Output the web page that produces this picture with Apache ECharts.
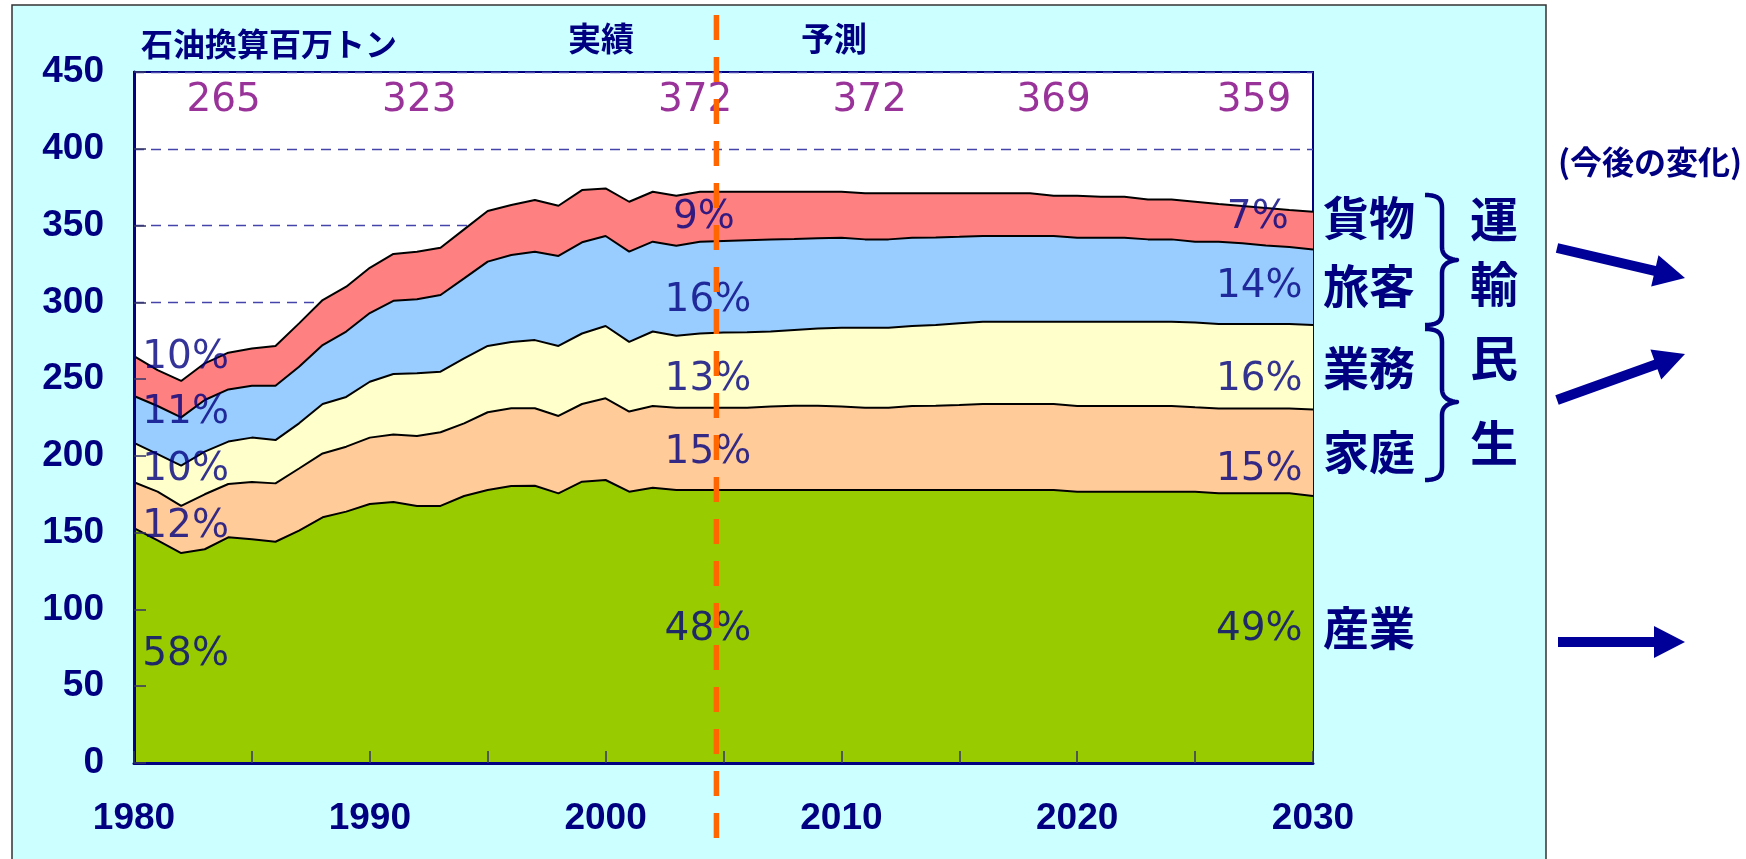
<!DOCTYPE html>
<html><head><meta charset="utf-8">
<script src="https://cdn.jsdelivr.net/npm/echarts@6.0.0/dist/echarts.min.js"></script>
<style>html,body{margin:0;padding:0;background:#fff;}#c{width:1746px;height:859px;}</style>
</head><body><div id="c"></div>
<script>
// ---- data ----
const years = ['1980','1981','1982','1983','1984','1985','1986','1987','1988','1989',
  '1990','1991','1992','1993','1994','1995','1996','1997','1998','1999',
  '2000','2001','2002','2003','2004','2005','2006','2007','2008','2009',
  '2010','2011','2012','2013','2014','2015','2016','2017','2018','2019',
  '2020','2021','2022','2023','2024','2025','2026','2027','2028','2029','2030'];
const industry = [153,145,136.7,139.2,147,145.7,144.1,151.3,160,163.7,
  168.7,170,167.4,167.4,173.9,177.8,180.4,180.6,175.6,183.2,
  184.3,176.7,179.3,177.8,177.8,177.8,177.8,177.8,177.8,177.8,
  177.8,177.8,177.8,177.8,177.8,177.8,177.8,177.8,177.8,177.8,
  176.7,176.7,176.7,176.7,176.7,176.7,175.6,175.6,175.6,175.6,173.9];
const household = [29.8,31.7,30.7,35.8,34.7,37.3,38.0,40.5,41.6,42.3,
  43.2,44.0,45.6,48.0,47.3,50.6,50.6,50.4,50.4,50.6,
  53.2,52.2,53.2,53.6,53.6,53.6,53.6,54.3,54.8,54.8,
  54.3,53.6,53.6,54.7,54.8,55.3,56.0,56.0,56.0,56.0,
  55.8,55.8,55.8,55.8,55.8,54.9,55.3,55.3,55.3,55.3,56.3];
const business = [25.7,24.5,26.2,27.8,27.6,28.9,28.2,29.4,32.2,32.4,
  36.4,39.3,40.8,39.4,42.3,43.2,43.2,44.4,45.6,45.9,
  47.1,45.3,48.5,46.8,48.3,48.9,49.1,48.9,49.4,50.4,
  51.4,52.1,52.1,52.1,52.6,53.2,53.6,53.6,53.6,53.6,
  54.9,54.9,54.9,54.9,54.9,55.2,55.0,55.0,55.0,55.0,55.0];
const passenger = [30.5,31.3,31.5,33.6,34.0,33.8,35.4,36.9,38.4,42.6,
  44.7,47.7,48.2,50.0,52.1,54.9,56.6,57.6,58.6,59.4,
  58.6,58.8,58.5,58.7,59.8,59.7,60.0,60.0,59.3,58.7,
  58.5,57.5,57.5,57.4,57.1,56.4,55.8,55.8,55.8,55.8,
  54.6,54.6,54.6,53.6,53.6,52.7,53.6,52.6,51.1,50.1,49.2];
const freight = [26.0,23.4,23.7,23.9,23.9,24.3,25.9,28.2,29.3,29.2,
  29.5,30.5,31.0,30.8,31.9,33.0,32.6,33.6,32.7,34.0,
  31.0,32.5,32.5,32.5,32.5,32.0,31.5,31.0,30.7,30.3,
  30.0,30.0,30.0,29.0,28.7,28.3,27.8,27.8,27.8,26.2,
  27.4,26.7,26.7,26.0,26.0,26.0,24.5,24.2,24.5,24.2,24.6];
const seriesNames = ['産業','家庭','業務','旅客','貨物'];
const seriesColors = ['#99CC00','#FFCC99','#FFFFCC','#99CCFF','#FF8080'];

const totalLabels = ['265','323','372','372','369','359'];
const totalLabelYears = [1983.8,1992.1,2003.8,2011.2,2019.0,2027.5];
const totalLabelLevel = 431.4;

const leftShareLabels = ['10%','11%','10%','12%','58%'];
const leftShareLevels = [263.7,228,190.8,153.7,70.3];
const leftShareYear = 1980.35;
const midShareLabels = ['9%','16%','13%','15%','48%'];
const midShareLevels = [355,300.9,249.4,201.9,86.6];
const midShareYears = [2004.17,2004.34,2004.34,2004.34,2004.34];
const rightShareLabels = ['7%','14%','16%','15%','49%'];
const rightShareLevels = [355,310,249.4,190.8,86.6];
const rightShareYears = [2028.97,2029.56,2029.56,2029.56,2029.56];

const forecastStartYear = 2004.7;
const yMin = 0, yMax = 450, yStep = 50;
const xMin = 1980, xMax = 2030, xStep = 5;

// ---- chart ----
const NAVY = '#000080';
const chart = echarts.init(document.getElementById('c'), null, {renderer:'canvas'});
const stackSeries = [industry, household, business, passenger, freight].map((arr, i) => ({
  name: seriesNames[i], type: 'line', stack: 'total', symbol: 'none', z: 2,
  xAxisIndex: 0, yAxisIndex: 0,
  lineStyle: {color: '#000', width: 2},
  areaStyle: {color: seriesColors[i], opacity: 1},
  data: arr
}));
function labelSeries(texts, xs, ys, align, color) {
  return {
    type: 'scatter', symbolSize: 0, z: 5, clip: false, silent: true, xAxisIndex: 1, yAxisIndex: 0,
    data: texts.map((t, i) => ({name: t, value: [Array.isArray(xs) ? xs[i] : xs, Array.isArray(ys) ? ys[i] : ys]})),
    label: {show: true, position: 'inside', formatter: '{b}', align: align, verticalAlign: 'middle',
      fontFamily: 'DejaVu Sans', fontSize: 39, color: color}
  };
}
const tickStyle = {show: true, inside: true, length: 12, lineStyle: {color: '#333366', width: 1.5}};
const option = {
  backgroundColor: '#fff',
  animation: false,
  grid: {left: 134, right: 433, top: 72, bottom: 96, containLabel: false, outerBoundsMode: 'none',
    show: true, backgroundColor: '#fff', borderColor: NAVY, borderWidth: 2},
  xAxis: [{type: 'category', data: years, boundaryGap: false, position: 'bottom', z: 0,
    axisLine: {show: false}, axisTick: {show: false}, splitLine: {show: false},
    axisLabel: {interval: 9, margin: 37, fontFamily: 'Liberation Sans', fontWeight: 'bold', fontSize: 37, color: NAVY}
  }, {type: 'value', min: xMin, max: xMax, interval: xStep, position: 'bottom', z: 10,
    axisLine: {show: true, onZero: false, lineStyle: {color: NAVY, width: 3}},
    axisTick: tickStyle, axisLabel: {show: false}, splitLine: {show: false}}],
  yAxis: [{type: 'value', min: yMin, max: yMax, interval: yStep, position: 'left', z: 0,
    axisLine: {show: false}, axisTick: {show: false},
    splitLine: {show: true, lineStyle: {color: '#4444aa', width: 1.3, type: [10, 7]}},
    axisLabel: {margin: 30, fontFamily: 'Liberation Sans', fontWeight: 'bold', fontSize: 37, color: NAVY}
  }, {type: 'value', min: yMin, max: yMax, interval: yStep, position: 'left', z: 10,
    axisLine: {show: true, onZero: false, lineStyle: {color: NAVY, width: 3}},
    axisTick: tickStyle, axisLabel: {show: false}, splitLine: {show: false}}],
  series: stackSeries.concat([
    labelSeries(totalLabels, totalLabelYears, totalLabelLevel, 'center', '#800080'),
    labelSeries(leftShareLabels, leftShareYear, leftShareLevels, 'left', NAVY),
    labelSeries(midShareLabels, midShareYears, midShareLevels, 'center', NAVY),
    labelSeries(rightShareLabels, rightShareYears, rightShareLevels, 'right', NAVY)
  ])
};
chart.setOption(option);

// ---- decorations ----
function txt(text, x, y, size, align) {
  return {type: 'text', z: 50, silent: true,
    style: {text: text, x: x, y: y, fill: NAVY, fontFamily: '"Noto Sans CJK JP"', fontWeight: 'bold',
      fontSize: size, align: align || 'left', verticalAlign: 'middle',
      textAlign: align || 'left', textVerticalAlign: 'middle'}};
}
function arrow(x1, y1, x2, y2) {
  const sh = 5, hl = 31, hh = 16;
  const dx = x2 - x1, dy = y2 - y1, L = Math.hypot(dx, dy), ux = dx / L, uy = dy / L, nx = -uy, ny = ux;
  const bx = x2 - ux * hl, by = y2 - uy * hl;
  return {type: 'polygon', z: 50, silent: true, shape: {points: [
    [x1 + nx * sh, y1 + ny * sh], [bx + nx * sh, by + ny * sh], [bx + nx * hh, by + ny * hh], [x2, y2],
    [bx - nx * hh, by - ny * hh], [bx - nx * sh, by - ny * sh], [x1 - nx * sh, y1 - ny * sh]]},
    style: {fill: '#000099'}};
}
// curly brace drawn as a polyline through sampled cubic curves
function brace(xEnd, xSpine, xTip, yTop, yMid, yBot) {
  const pts = [];
  function cubic(p0, p1, p2, p3) {
    for (let t = 0; t <= 1.0001; t += 0.1) {
      const a = (1 - t) ** 3, b = 3 * (1 - t) ** 2 * t, c = 3 * (1 - t) * t * t, d = t ** 3;
      pts.push([a * p0[0] + b * p1[0] + c * p2[0] + d * p3[0], a * p0[1] + b * p1[1] + c * p2[1] + d * p3[1]]);
    }
  }
  const r = 13;
  cubic([xEnd, yTop], [xSpine - 4, yTop], [xSpine, yTop + 4], [xSpine, yTop + r]);
  cubic([xSpine, yMid - r], [xSpine, yMid - 4], [xTip - 8, yMid - 1], [xTip, yMid]);
  cubic([xTip, yMid], [xTip - 8, yMid + 1], [xSpine, yMid + 4], [xSpine, yMid + r]);
  cubic([xSpine, yBot - r], [xSpine, yBot - 4], [xSpine - 4, yBot], [xEnd, yBot]);
  return {type: 'polyline', z: 50, silent: true, shape: {points: pts},
    style: {fill: null, stroke: NAVY, lineWidth: 4.5, lineJoin: 'round'}};
}
const dashX = chart.convertToPixel({xAxisIndex: 1}, forecastStartYear);
const graphics = [
  {type: 'rect', z: -100, silent: true, shape: {x: 12, y: 5, width: 1534, height: 870},
    style: {fill: '#CCFFFF', stroke: '#333', lineWidth: 1.5}},
  txt('石油換算百万トン', 141, 44, 32),
  txt('実績', 601, 38, 33, 'center'),
  txt('予測', 834, 38, 33, 'center'),
  txt('貨物', 1323, 218, 46),
  txt('旅客', 1323, 286, 46),
  txt('業務', 1323, 368, 46),
  txt('家庭', 1323, 452, 46),
  txt('産業', 1323, 628, 46),
  txt('運', 1494, 219, 48, 'center'),
  txt('輸', 1494, 284, 48, 'center'),
  txt('民', 1494, 358, 48, 'center'),
  txt('生', 1494, 443, 48, 'center'),
  txt('(今後の変化)', 1558, 162, 32),
  brace(1425, 1442, 1457, 195, 260, 325),
  brace(1425, 1442, 1457, 329, 402, 480),
  arrow(1557, 248, 1685, 278),
  arrow(1557, 400, 1685, 354),
  arrow(1558, 642, 1685, 642),
  {type: 'line', z: 100, silent: true, shape: {x1: dashX, y1: 15, x2: dashX, y2: 840},
    style: {stroke: '#FF6600', lineWidth: 5.5, lineDash: [25, 17]}}
];
chart.setOption({graphic: {elements: graphics}});
</script></body></html>
